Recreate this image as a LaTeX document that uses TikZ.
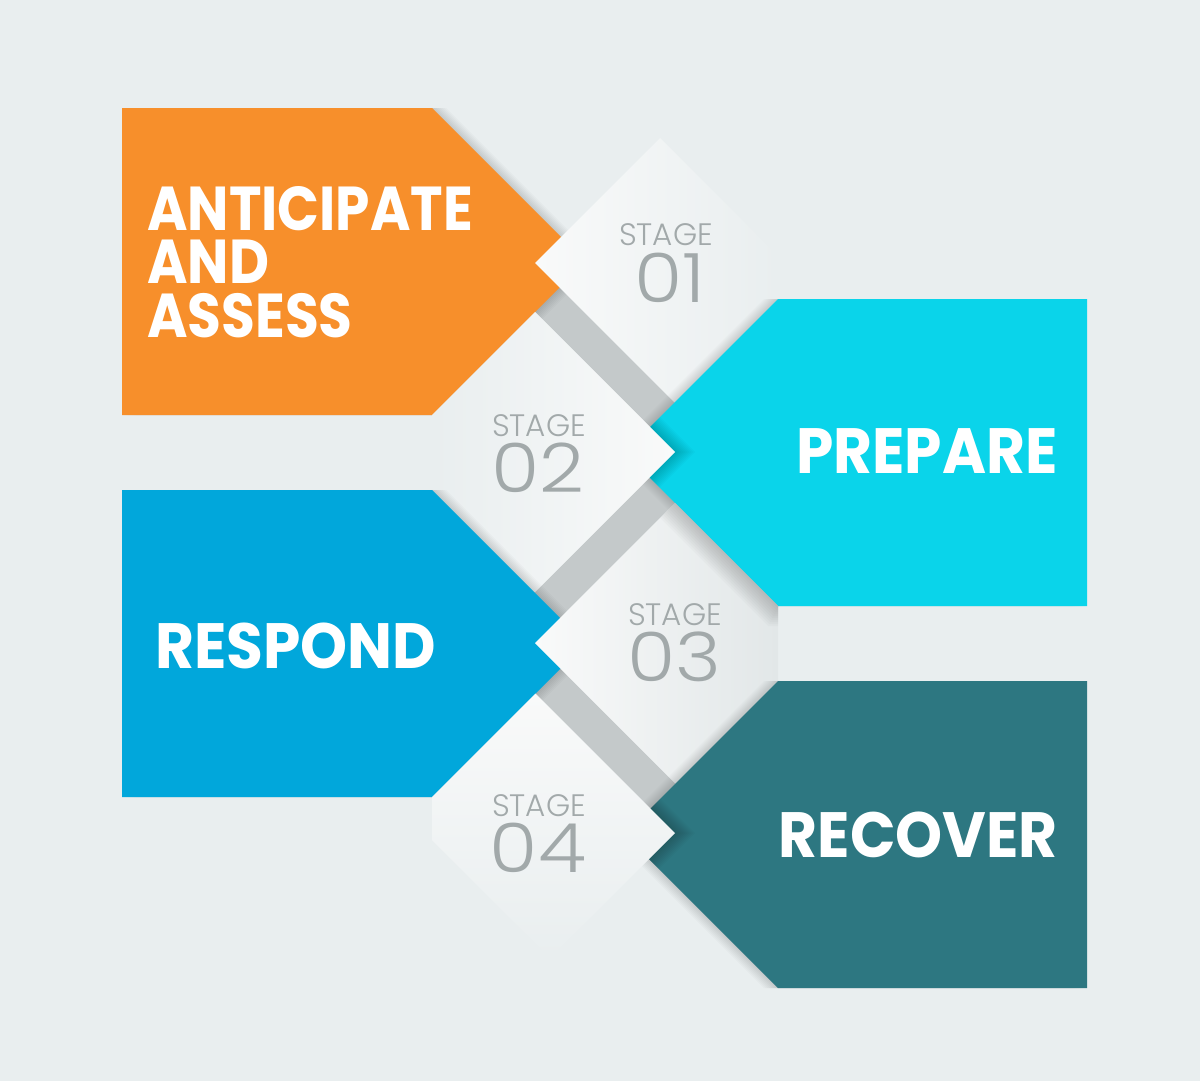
\documentclass[tikz,border=0pt]{standalone}
\usepackage{fontspec}
\setmainfont{Poppins}
\newfontfamily\cardfont{Poppins}[FakeStretch=0.935]
\newfontfamily\leadfont{Poppins}[FakeStretch=0.887]
\newfontfamily\stagefont{Poppins Light}
\newfontfamily\stagenumfont{Poppins Light}[FakeStretch=1.15]

\definecolor{pagebg}{HTML}{E9EEEF}
\definecolor{paper}{HTML}{F9FAFA}
\definecolor{paperdim}{HTML}{E2E7E8}
\definecolor{foldgrey}{HTML}{C4C9CA}
\definecolor{stagegrey}{HTML}{A2A9AA}
\definecolor{anticipate}{HTML}{F78F2B}
\definecolor{prepare}{HTML}{0AD4EA}
\definecolor{respond}{HTML}{01A7DB}
\definecolor{recover}{HTML}{2D7781}

\begin{document}
\begin{tikzpicture}[
  x=1pt, y=-1pt,
  cardtext/.style={text=white, font=\cardfont\bfseries\fontsize{64}{54}\selectfont, inner sep=0pt},
  stagetag/.style={text=stagegrey, font=\stagefont\fontsize{31}{31}\selectfont, inner sep=0pt, anchor=base},
  stagenum/.style={text=stagegrey, font=\stagenumfont\fontsize{68}{68}\selectfont, inner sep=0pt, anchor=base},
  fold/.style={fill=foldgrey},
  castshadow/.style={fill=black, opacity=0.02}
]

% page
\fill[pagebg] (0,0) rectangle (1200,1081);
\useasboundingbox (0,0) rectangle (1200,1081);

% grey folds under the paper strips
\fill[fold] (520,248) -- (700,428) -- (700,477) -- (520,297) -- cycle;
\fill[fold] (520,607) -- (700,427) -- (700,478) -- (520,658) -- cycle;
\fill[fold] (520,628) -- (700,808) -- (700,858) -- (520,678) -- cycle;

% stage 1
\foreach \d in {2,4,...,14}
  \fill[castshadow, shift={(\d,0)}] (122,108) -- (432,108) -- (585.5,261.5) -- (432,415) -- (122,415) -- cycle;
\fill[anticipate] (122,108) -- (432,108) -- (585.5,261.5) -- (432,415) -- (122,415) -- cycle;
\shade[left color=paper, right color=pagebg]
  (535,263) -- (660,138) -- (778,256) -- (778,299) -- (674.5,402.5) -- cycle;

% stage 2
\foreach \d in {2,4,...,14}
  \fill[castshadow, shift={(-\d,0)}] (1087,299) -- (778,299) -- (624.5,452.5) -- (778,606) -- (1087,606) -- cycle;
\fill[prepare] (1087,299) -- (778,299) -- (624.5,452.5) -- (778,606) -- (1087,606) -- cycle;
\begin{scope}
  \clip (1087,299) -- (778,299) -- (624.5,452.5) -- (778,606) -- (1087,606) -- cycle;
  \foreach \d in {2,4,...,20}
    \fill[castshadow, shift={(\d,0)}] (535,312) -- (675,452) -- (534.5,592.5) -- cycle;
\end{scope}
\shade[left color=pagebg, right color=paper]
  (432,415) -- (535,312) -- (675,452) -- (534.5,592.5) -- (432,490) -- cycle;

% stage 3
\foreach \d in {2,4,...,14}
  \fill[castshadow, shift={(\d,0)}] (122,490) -- (432,490) -- (585.5,643.5) -- (432,797) -- (122,797) -- cycle;
\fill[respond] (122,490) -- (432,490) -- (585.5,643.5) -- (432,797) -- (122,797) -- cycle;
\shade[left color=paper, right color=paperdim]
  (535,643) -- (675,503) -- (778,606) -- (778,681) -- (675.5,783.5) -- cycle;
\begin{scope}
  \clip (535,643) -- (675,503) -- (778,606) -- (778,681) -- (675.5,783.5) -- cycle;
  \foreach \d in {2,4,...,20}
    \fill[castshadow, shift={(-0.5*\d,\d)}] (624.5,452.5) -- (778,606) -- (800,606) -- (800,452.5) -- cycle;
\end{scope}

% stage 4
\foreach \d in {2,4,...,14}
  \fill[castshadow, shift={(-\d,0)}] (1087,681) -- (778,681) -- (624.5,834.5) -- (778,988) -- (1087,988) -- cycle;
\fill[recover] (1087,681) -- (778,681) -- (624.5,834.5) -- (778,988) -- (1087,988) -- cycle;
\begin{scope}
  \clip (1087,681) -- (778,681) -- (624.5,834.5) -- (778,988) -- (1087,988) -- cycle;
  \foreach \d in {2,4,...,20}
    \fill[castshadow, shift={(\d,0)}] (535.5,693.5) -- (675,833) -- (550,958) -- cycle;
\end{scope}
\shade[top color=paper, bottom color=pagebg]
  (432,797) -- (535.5,693.5) -- (675,833) -- (550,958) -- (432,840) -- cycle;

% card titles
\node[cardtext, font=\leadfont\bfseries\fontsize{62}{53.5}\selectfont, align=left, anchor=west]
  (anticipate) at (147,262) {ANTICIPATE\\AND\\ASSESS};
\node[cardtext, anchor=base east] (prepare) at (1058,473) {PREPARE};
\node[cardtext, anchor=base west] (respond) at (155,668) {RESPOND};
\node[cardtext, anchor=base east] (recover) at (1058,857) {RECOVER};

% stage tags
\node[stagetag] (tag1) at (666,245) {STAGE};
\node[stagenum] (num1) at (670,302) {01};
\node[stagetag] (tag2) at (539,436) {STAGE};
\node[stagenum] (num2) at (538,492) {02};
\node[stagetag] (tag3) at (675,625) {STAGE};
\node[stagenum] (num3) at (674,681) {03};
\node[stagetag] (tag4) at (539,816) {STAGE};
\node[stagenum] (num4) at (538,872) {04};

\end{tikzpicture}
\end{document}
